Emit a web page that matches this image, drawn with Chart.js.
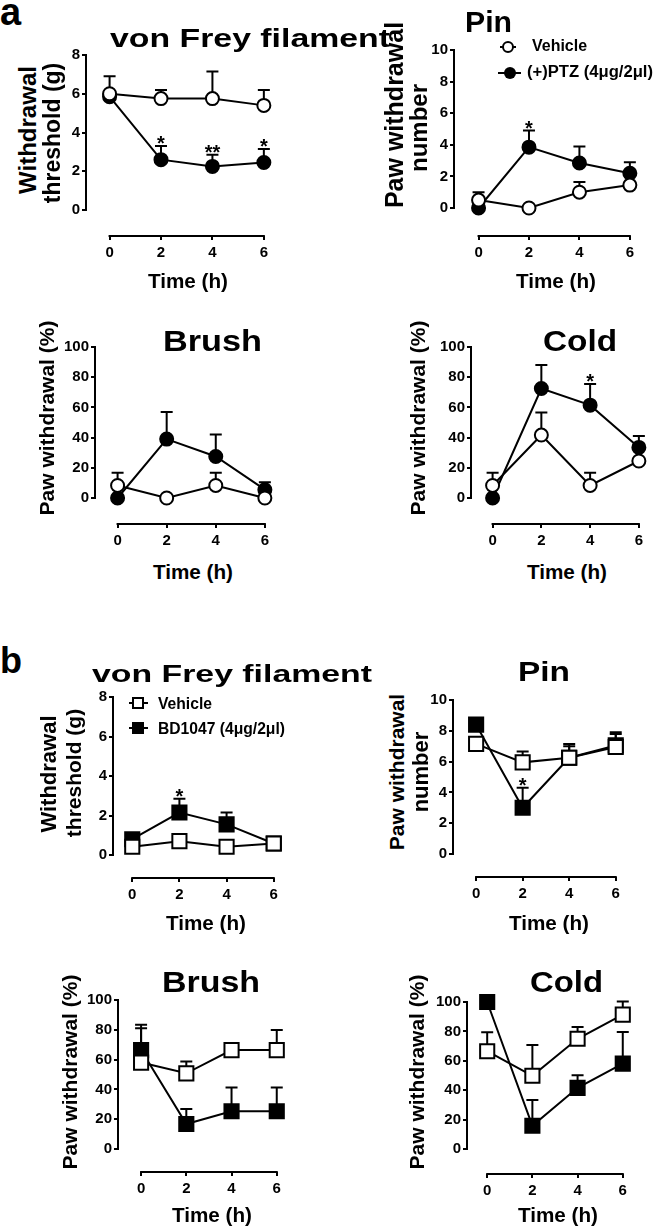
<!DOCTYPE html>
<html>
<head>
<meta charset="utf-8">
<script src="https://cdn.jsdelivr.net/npm/chart.js@4.4.0/dist/chart.umd.min.js"></script>
<style>
    body { margin: 0; background: #fff; width: 657px; height: 1229px; position: relative; overflow: hidden; }
    canvas { position: absolute; }
    .t { position: absolute; white-space: nowrap; line-height: 1; color: #000; font-weight: bold;
         font-family: "Liberation Sans", Arial, sans-serif; }
</style>
</head>
<body>
<script>
// =========================
// DATA
// =========================
const hours = [0, 2, 4, 6];

// (a) (+)PTZ vs vehicle
const aVfVeh = [6.0, 5.75, 5.75, 5.4];
const aVfVehSem = [0.9, 0.45, 1.4, 0.8];
const aVfPtz = [5.85, 2.6, 2.25, 2.45];
const aVfPtzSem = [0, 0.7, 0.6, 0.7];
const aVfStars = ["", "*", "**", "*"];

const aPinVeh = [0.5, 0, 1.0, 1.45];
const aPinVehSem = [0.5, 0, 0.65, 0];
const aPinPtz = [0, 3.85, 2.85, 2.2];
const aPinPtzSem = [0, 1.05, 1.05, 0.7];
const aPinStars = ["", "*", "", ""];

const aBrVeh = [8.3, 0, 8.3, 0];
const aBrVehSem = [8.4, 0, 8.4, 0];
const aBrPtz = [0, 39, 27.5, 5.5];
const aBrPtzSem = [0, 18, 14.5, 5];

const aColdVeh = [8.3, 41.7, 8.3, 24.5];
const aColdVehSem = [8.4, 15, 8.4, 0];
const aColdPtz = [0, 72.5, 61.5, 33.5];
const aColdPtzSem = [0, 15.5, 14, 7.5];
const aColdStars = ["", "", "*", ""];

// (b) BD1047 vs vehicle
const bVfVeh = [0.42, 0.7, 0.42, 0.58];
const bVfVehSem = [0, 0, 0, 0];
const bVfBd = [0.8, 2.15, 1.55, 0.58];
const bVfBdSem = [0, 0.7, 0.6, 0];
const bVfStars = ["", "*", "", ""];

const bPinVeh = [7.15, 5.95, 6.25, 6.95];
const bPinVehSem = [0, 0.7, 0.9, 0.85];
const bPinBd = [8.4, 3.0, 6.25, 7.05];
const bPinBdSem = [0, 1.3, 0.75, 0.85];
const bPinStars = ["", "*", "", ""];

const bBrVeh = [58, 50.8, 66.4, 66.4];
const bBrVehSem = [23, 8, 0, 13.5];
const bBrBd = [66.4, 16.8, 25.3, 25.3];
const bBrBdSem = [17, 10, 16, 16];

const bColdVeh = [66.5, 49.8, 75, 91.4];
const bColdVehSem = [13, 21, 8, 9];
const bColdBd = [100, 15.8, 41.6, 58.1];
const bColdBdSem = [0, 17.5, 8.6, 21.5];

const ticks8 = [0, 2, 4, 6, 8];
const ticks10 = [0, 2, 4, 6, 8, 10];
const ticks100 = [0, 20, 40, 60, 80, 100];

// =========================
// HELPERS
// =========================
const FONT = "'Liberation Sans', Arial, sans-serif";
const meas = document.createElement("canvas").getContext("2d");

const addText = (str, x, base, size, opts = {}) => {
    const d = document.createElement("div");
    d.className = "t";
    d.textContent = str;
    d.style.fontSize = size + "px";
    d.style.left = x + "px";
    d.style.top = (base - 0.8465 * size) + "px";
    let sx = 1;
    if (opts.width) {
        meas.font = `bold ${size}px ${FONT}`;
        sx = opts.width / meas.measureText(str).width;
    }
    if (opts.center) {
        d.style.transformOrigin = "50% 0";
        d.style.transform = `translateX(-50%) scaleX(${sx})`;
    } else {
        d.style.transformOrigin = "0 0";
        d.style.transform = `scaleX(${sx})`;
    }
    document.body.appendChild(d);
};

const addVText = (str, cx, cy, size) => {
    const d = document.createElement("div");
    d.className = "t";
    d.textContent = str;
    d.style.fontSize = size + "px";
    d.style.left = cx + "px";
    d.style.top = cy + "px";
    d.style.transform = "translate(-50%,-50%) rotate(-90deg)";
    document.body.appendChild(d);
};

const addBox = (x, y, w, h, style) => {
    const d = document.createElement("div");
    d.style.cssText = `position:absolute;left:${x}px;top:${y}px;width:${w}px;height:${h}px;box-sizing:border-box;${style}`;
    document.body.appendChild(d);
};

// axis lines only over the data range (Prism style, detached x axis)
const axisLines = {
    id: "axisLines",
    beforeDatasetsDraw(chart) {
        const { ctx, chartArea, scales } = chart;
        ctx.save();
        ctx.strokeStyle = "#000";
        ctx.lineWidth = 2;
        ctx.beginPath();
        ctx.moveTo(chartArea.left, scales.y.getPixelForValue(0) + 1);
        ctx.lineTo(chartArea.left, scales.y.getPixelForValue(scales.y.max) - 1);
        ctx.moveTo(scales.x.getPixelForValue(0) - 1, chartArea.bottom);
        ctx.lineTo(scales.x.getPixelForValue(6) + 1, chartArea.bottom);
        ctx.stroke();
        ctx.restore();
    }
};

// one-sided SEM bars + significance stars
const errorBars = {
    id: "errorBars",
    beforeDatasetsDraw(chart) {
        const ctx = chart.ctx, y = chart.scales.y;
        ctx.save();
        ctx.strokeStyle = "#000";
        ctx.lineWidth = 2;
        chart.data.datasets.forEach((ds, i) => {
            chart.getDatasetMeta(i).data.forEach((pt, j) => {
                const e = ds.sem[j];
                if (!e) return;
                const top = y.getPixelForValue(ds.data[j].y + e);
                ctx.beginPath();
                ctx.moveTo(pt.x, pt.y);
                ctx.lineTo(pt.x, top);
                ctx.moveTo(pt.x - 6, top);
                ctx.lineTo(pt.x + 6, top);
                ctx.stroke();
            });
        });
        ctx.restore();
    },
    afterDatasetsDraw(chart) {
        const ctx = chart.ctx, y = chart.scales.y;
        ctx.save();
        ctx.fillStyle = "#000";
        ctx.font = `bold 20px ${FONT}`;
        ctx.textAlign = "center";
        ctx.textBaseline = "alphabetic";
        chart.data.datasets.forEach((ds, i) => {
            if (!ds.stars) return;
            chart.getDatasetMeta(i).data.forEach((pt, j) => {
                if (!ds.stars[j]) return;
                const top = y.getPixelForValue(ds.data[j].y + ds.sem[j]);
                ctx.fillText(ds.stars[j], pt.x, top + 4);
            });
        });
        ctx.restore();
    }
};

const xTickFont = { family: FONT, size: 15, weight: "bold" };
const yTickFont = { family: FONT, size: 15, weight: "bold" };

const makePanel = (g, yMax, yTicks, marker, sets) => {
    const unitX = (g.x6 - g.x0) / 6;
    const unitY = (g.y0 - g.yTop) / yMax;
    const yW = 45, padTop = 30, xH = 34;
    const left = g.axX - yW, top = g.yTop - padTop;
    const right = g.x6 + 25, bottom = g.xLine + xH;

    const cv = document.createElement("canvas");
    cv.width = right - left;
    cv.height = bottom - top;
    cv.style.left = left + "px";
    cv.style.top = top + "px";
    document.body.appendChild(cv);

    const rad = marker === "rect" ? 10 : 6.5;

    new Chart(cv, {
        type: "line",
        data: {
            datasets: sets.map(s => ({
                data: hours.map((h, i) => ({ x: h, y: s.v[i] })),
                sem: s.e,
                stars: s.stars,
                borderColor: "#000",
                borderWidth: 2,
                pointStyle: marker,
                pointRadius: rad,
                pointBorderWidth: 2,
                pointBorderColor: "#000",
                pointBackgroundColor: s.fill,
                tension: 0,
                clip: false
            }))
        },
        options: {
            responsive: false,
            animation: false,
            devicePixelRatio: 1,
            layout: { padding: { top: padTop, right: 5, left: 0, bottom: 0 } },
            plugins: { legend: { display: false }, tooltip: { enabled: false } },
            scales: {
                x: {
                    type: "linear",
                    min: -(g.x0 - g.axX) / unitX,
                    max: 6 + 20 / unitX,
                    afterBuildTicks: s => { s.ticks = hours.map(v => ({ value: v })); },
                    afterFit: s => { s.height = xH; },
                    border: { display: false },
                    grid: { drawOnChartArea: false, drawTicks: true, tickLength: 4, color: "#000", lineWidth: 2 },
                    ticks: { color: "#000", font: xTickFont, padding: 4, maxRotation: 0, autoSkip: false, callback: v => String(v) }
                },
                y: {
                    type: "linear",
                    min: -(g.xLine - g.y0) / unitY,
                    max: yMax,
                    afterBuildTicks: s => { s.ticks = yTicks.map(v => ({ value: v })); },
                    afterFit: s => { s.width = yW; },
                    border: { display: false },
                    grid: { drawOnChartArea: false, drawTicks: true, tickLength: 4, color: "#000", lineWidth: 2 },
                    ticks: { color: "#000", font: yTickFont, padding: 2, autoSkip: false, callback: v => String(v) }
                }
            }
        },
        plugins: [axisLines, errorBars]
    });
};

// =========================
// PANELS
// =========================
// (a)
makePanel({ axX: 86, yTop: 55, y0: 210, xLine: 236, x0: 110, x6: 267 }, 8, ticks8, "circle", [
    { v: aVfVeh, e: aVfVehSem, fill: "#fff" },
    { v: aVfPtz, e: aVfPtzSem, fill: "#000", stars: aVfStars }
]);
makePanel({ axX: 454, yTop: 50, y0: 208, xLine: 236, x0: 479, x6: 633 }, 10, ticks10, "circle", [
    { v: aPinVeh, e: aPinVehSem, fill: "#fff" },
    { v: aPinPtz, e: aPinPtzSem, fill: "#000", stars: aPinStars }
]);
makePanel({ axX: 95, yTop: 347, y0: 498, xLine: 524, x0: 118, x6: 268 }, 100, ticks100, "circle", [
    { v: aBrVeh, e: aBrVehSem, fill: "#fff" },
    { v: aBrPtz, e: aBrPtzSem, fill: "#000" }
]);
makePanel({ axX: 471, yTop: 347, y0: 498, xLine: 524, x0: 493, x6: 642 }, 100, ticks100, "circle", [
    { v: aColdVeh, e: aColdVehSem, fill: "#fff" },
    { v: aColdPtz, e: aColdPtzSem, fill: "#000", stars: aColdStars }
]);

// (b)
makePanel({ axX: 113, yTop: 697, y0: 855, xLine: 878, x0: 133, x6: 280 }, 8, ticks8, "rect", [
    { v: bVfVeh, e: bVfVehSem, fill: "#fff" },
    { v: bVfBd, e: bVfBdSem, fill: "#000", stars: bVfStars }
]);
makePanel({ axX: 453, yTop: 700, y0: 854, xLine: 877, x0: 477, x6: 622 }, 10, ticks10, "rect", [
    { v: bPinVeh, e: bPinVehSem, fill: "#fff" },
    { v: bPinBd, e: bPinBdSem, fill: "#000", stars: bPinStars }
]);
makePanel({ axX: 118, yTop: 1000, y0: 1149, xLine: 1172, x0: 142, x6: 283 }, 100, ticks100, "rect", [
    { v: bBrVeh, e: bBrVehSem, fill: "#fff" },
    { v: bBrBd, e: bBrBdSem, fill: "#000" }
]);
makePanel({ axX: 467, yTop: 1002, y0: 1149, xLine: 1174, x0: 488, x6: 629 }, 100, ticks100, "rect", [
    { v: bColdVeh, e: bColdVehSem, fill: "#fff" },
    { v: bColdBd, e: bColdBdSem, fill: "#000" }
]);

// =========================
// TEXT
// =========================
addText("a", 0, 25, 38);
addText("b", 0, 673, 36);

addText("von Frey filament", 110, 47, 25, { width: 280 });
addText("Pin", 465, 32, 30, { width: 47 });
addText("Brush", 163, 352, 29, { width: 99 });
addText("Cold", 543, 352, 29, { width: 74 });
addText("von Frey filament", 92, 682, 24, { width: 280 });
addText("Pin", 518, 682, 28, { width: 52 });
addText("Brush", 162, 993, 29, { width: 98 });
addText("Cold", 530, 993, 29, { width: 73 });

[[188, 288], [556, 288], [193, 579], [567, 579],
 [206, 930], [549, 930], [212, 1222], [558, 1222]].forEach(([x, b]) =>
    addText("Time (h)", x, b, 21, { center: true, width: 80 }));

addVText("Withdrawal", 28, 130, 24);
addVText("threshold (g)", 52, 133, 23);
addVText("Paw withdrawal", 394, 115, 25);
addVText("number", 419, 128, 24);
addVText("Paw withdrawal (%)", 46, 418, 21);
addVText("Paw withdrawal (%)", 417, 418, 21);
addVText("Withdrawal", 49, 774, 22);
addVText("threshold (g)", 73, 773, 21);
addVText("Paw withdrawal", 396, 772, 21);
addVText("number", 421, 772, 22);
addVText("Paw withdrawal (%)", 69, 1072, 21);
addVText("Paw withdrawal (%)", 416, 1072, 21);

// legends
addBox(500, 46, 16, 2, "background:#000");
addBox(502, 41, 12, 12, "border:2px solid #000;border-radius:50%;background:#fff");
addText("Vehicle", 532, 52, 16, { width: 55 });
addBox(498, 72, 23, 2, "background:#000");
addBox(504, 67, 12, 12, "border-radius:50%;background:#000");
addText("(+)PTZ (4μg/2μl)", 527, 78, 16, { width: 126 });

addBox(129, 702, 19, 2, "background:#000");
addBox(132, 697, 12, 12, "border:2px solid #000;background:#fff");
addText("Vehicle", 158, 710, 16, { width: 54 });
addBox(129, 727, 19, 2, "background:#000");
addBox(132, 722, 12, 12, "background:#000");
addText("BD1047 (4μg/2μl)", 158, 735, 16, { width: 127 });
</script>
</body>
</html>
